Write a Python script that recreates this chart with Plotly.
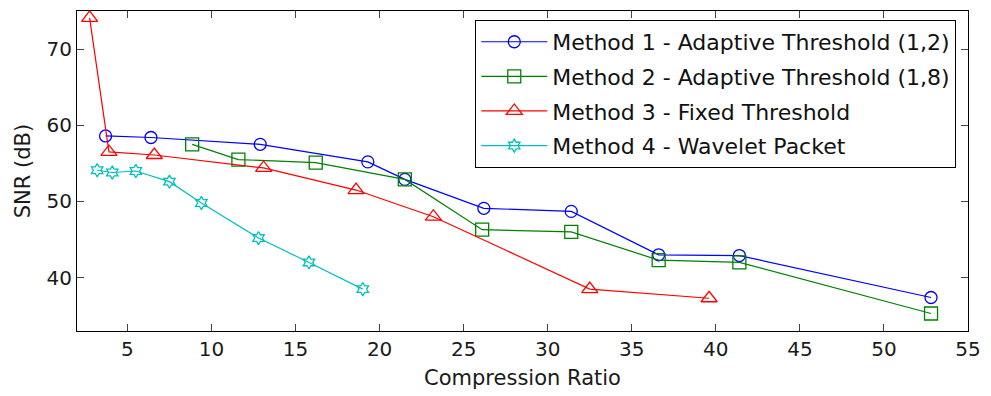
import plotly.graph_objects as go

names = ["Method 1 - Adaptive Threshold (1,2)", "Method 2 - Adaptive Threshold (1,8)",
         "Method 3 - Fixed Threshold", "Method 4 - Wavelet Packet"]

m1_x = [3.7, 6.4, 12.9, 19.3, 21.5, 26.2, 31.4, 36.6, 41.4, 52.8]
m1_y = [58.6, 58.4, 57.5, 55.2, 52.9, 49.1, 48.7, 43.0, 42.9, 37.4]

m2_x = [8.85, 11.6, 16.2, 21.5, 26.1, 31.4, 36.6, 41.4, 52.8]
m2_y = [57.5, 55.5, 55.1, 52.9, 46.3, 46.0, 42.3, 42.0, 35.3]

m3_x = [2.75, 3.9, 6.6, 13.1, 18.6, 23.2, 32.5, 39.6]
m3_y = [74.1, 56.5, 56.1, 54.4, 51.5, 48.0, 38.5, 37.3]

m4_x = [3.2, 4.1, 5.5, 7.5, 9.4, 12.8, 15.8, 19.0]
m4_y = [54.1, 53.8, 54.0, 52.6, 49.8, 45.2, 42.0, 38.5]

x_ticks = [5, 10, 15, 20, 25, 30, 35, 40, 45, 50, 55]
y_ticks = [40, 50, 60, 70]

series = [
    (m1_x, m1_y, "#0000FF", "circle-open", 12),
    (m2_x, m2_y, "#008000", "square-open", 13),
    (m3_x, m3_y, "#FF0000", "triangle-up-open", 14),
    (m4_x, m4_y, "#00BFBF", "hexagram-open", 10),
]

fig = go.Figure()
for i, (xs, ys, col, sym, sz) in enumerate(series):
    fig.add_trace(go.Scatter(
        x=xs, y=ys, mode="lines+markers", name=names[i], legendgroup=str(i),
        line=dict(color=col, width=1.2),
        marker=dict(symbol=sym, size=sz, color=col, line=dict(color=col, width=1.3)),
    ))

font = "DejaVu Sans, Verdana, sans-serif"
fig.update_layout(
    width=991, height=396,
    margin=dict(l=77, r=20, t=10, b=63),
    plot_bgcolor="white", paper_bgcolor="white",
    font=dict(family=font, size=20, color="#1a1a1a"),
    showlegend=True,
    legend=dict(x=0.447, y=0.972, xanchor="left", yanchor="top",
                bordercolor="black", borderwidth=1, bgcolor="white",
                font=dict(size=22, color="#111111"), tracegroupgap=3,
                itemwidth=66),
    xaxis=dict(range=[2, 55], tickvals=x_ticks, ticks="inside", ticklen=7,
               showline=True, linecolor="black", linewidth=1.2, mirror="ticks",
               showgrid=False, zeroline=False, tickfont=dict(size=20),
               title=dict(text="Compression Ratio", font=dict(size=21), standoff=10)),
    yaxis=dict(range=[33, 75], tickvals=y_ticks, ticks="inside", ticklen=7,
               showline=True, linecolor="black", linewidth=1.2, mirror="ticks",
               showgrid=False, zeroline=False, tickfont=dict(size=20),
               title=dict(text="SNR (dB)", font=dict(size=21), standoff=10)),
)

fig.write_html("out.html")
